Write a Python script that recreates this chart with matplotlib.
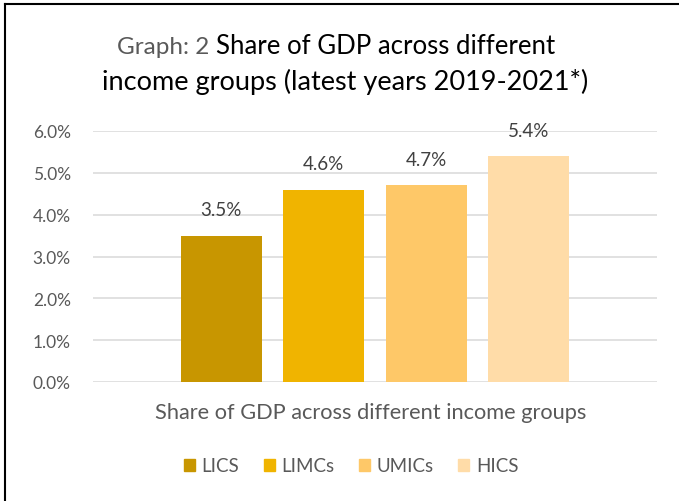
import matplotlib
matplotlib.use("Agg")
from matplotlib import pyplot as plt
from matplotlib.lines import Line2D
import matplotlib.patches as mpatches
import numpy as np

groups = ["LICS", "LIMCs", "UMICs", "HICS"]
shares = [3.5, 4.6, 4.7, 5.4]
colors = ["#C89600", "#F0B400", "#FEC868", "#FFDCA8"]
yticks = [0, 1, 2, 3, 4, 5, 6]
title_prefix = "Graph: 2 "
title_line1 = "Share of GDP across different"
title_line2 = "income groups (latest years 2019-2021*)"
xlabel = "Share of GDP across different income groups"

plt.rcParams["font.family"] = ["Lato", "DejaVu Sans"]

W, H = 679, 502
fig = plt.figure(figsize=(W / 100, H / 100), dpi=100)

def fx(px):
    return px / W

def fy(py):
    return 1 - py / H

ax = fig.add_axes([fx(93), fy(383), fx(657 - 93), (383 - 132) / H])

x = np.arange(len(groups))
ax.bar(x, shares, width=0.79, color=colors, zorder=2)
ax.set_xlim(-1.251, 4.251)
ax.set_ylim(0, 6)

for i, v in enumerate(shares):
    ax.annotate("{:.1f}%".format(v), (x[i], v), xytext=(0, 18.5),
                textcoords="offset points", ha="center", va="center",
                fontsize=13.5, color="#404040")

ax.set_yticks(yticks)
ax.set_yticklabels(["{:.1f}%".format(t) for t in yticks])
ax.tick_params(axis="y", length=0, pad=16, labelsize=12.5, labelcolor="#595959")
ax.set_xticks([])
for s in ax.spines.values():
    s.set_visible(False)
ax.yaxis.grid(True, color="#D9D9D9", linewidth=1.1)
ax.set_axisbelow(True)

fig.text(fx(371), fy(413), xlabel, ha="center", va="center",
         fontsize=15.7, color="#595959")

# title: grey prefix followed by the black heading, centred as one line
renderer = fig.canvas.get_renderer()
t_pre = fig.text(0, fy(47), title_prefix, ha="left", va="center",
                 fontsize=17.5, color="#595959")
t_main = fig.text(0, fy(47), title_line1, ha="left", va="center",
                  fontsize=18.5, color="black")
w_pre = t_pre.get_window_extent(renderer).width
w_main = t_main.get_window_extent(renderer).width
start = 336 - (w_pre + w_main) / 2
t_pre.set_x(fx(start))
t_main.set_x(fx(start + w_pre))
fig.text(fx(345), fy(82), title_line2, ha="center", va="center",
         fontsize=19.5, color="black")

handles = [mpatches.Patch(color=c, label=g) for g, c in zip(groups, colors)]
fig.legend(handles=handles, loc="center", bbox_to_anchor=(fx(351), fy(467)),
           ncol=4, frameon=False, fontsize=13.5, labelcolor="#595959",
           handlelength=0.6, handleheight=0.6, handletextpad=0.35,
           columnspacing=1.3)

# chart frame (left and top edges)
fig.add_artist(Line2D([fx(5), fx(5)], [0, fy(5)], color="black", lw=1.5))
fig.add_artist(Line2D([fx(5), 1], [fy(5), fy(5)], color="black", lw=1.5))

fig.savefig("out.png", dpi=100)
